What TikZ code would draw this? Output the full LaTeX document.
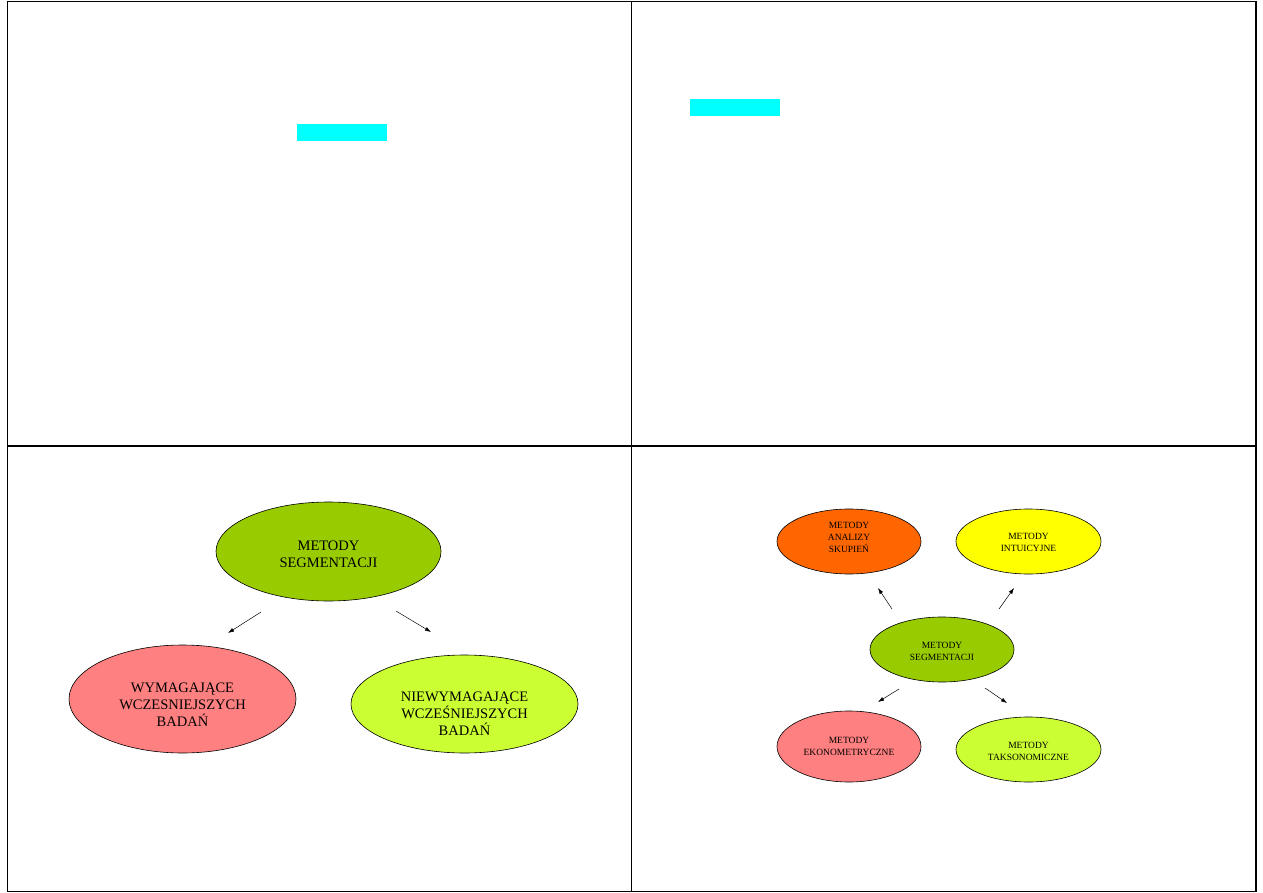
\documentclass[tikz,border=0pt]{standalone}
\usepackage{fontspec}
\setmainfont{Liberation Serif}
\usetikzlibrary{shapes.geometric,arrows.meta}
\definecolor{segGreen}{HTML}{99CC00}
\definecolor{pinkR}{HTML}{FF8080}
\definecolor{limeG}{HTML}{CCFF33}
\definecolor{orangeA}{HTML}{FF6600}
\definecolor{yellowI}{HTML}{FFFF00}
\definecolor{cyanBox}{HTML}{00FFFF}
\tikzset{
  frameline/.style={line width=1.4pt, black},
  oval/.style={ellipse, draw=black, line width=0.6pt, inner sep=0pt},
  bigtxt/.style={font=\fontsize{14.5}{17}\selectfont, align=center, inner sep=0pt},
  smalltxt/.style={font=\fontsize{9.5}{12}\selectfont, align=center, inner sep=0pt},
  arr/.style={-{Latex[length=6pt,width=4pt]}, line width=0.5pt},
  marker/.style={fill=cyanBox, draw=none}
}
\begin{document}
\begin{tikzpicture}[x=1pt,y=-1pt]
\useasboundingbox (0,0) rectangle (1263,893);
% frame
\draw[frameline] (7.5,1.8) rectangle (1256,891.5);
\draw[frameline] (631.5,1.8) -- (631.5,891.5);
\draw[frameline] (7.5,446) -- (1256,446);
% cyan markers
\fill[marker] (297,124) rectangle (387,141);
\fill[marker] (690,99) rectangle (780,116);
% bottom-left diagram
\node[oval, fill=segGreen, minimum width=225, minimum height=99,
  label={[bigtxt,yshift=-3pt]center:METODY\\SEGMENTACJI}] (segA) at (328.5,551.5) {};
\node[oval, fill=pinkR, minimum width=227, minimum height=108,
  label={[bigtxt,yshift=-6pt]center:WYMAGAJĄCE\\WCZESNIEJSZYCH\\BADAŃ}] (wym) at (182.5,699) {};
\node[oval, fill=limeG, minimum width=227, minimum height=98,
  label={[bigtxt,yshift=-10pt]center:NIEWYMAGAJĄCE\\WCZEŚNIEJSZYCH\\BADAŃ}] (niew) at (464.5,704) {};
\coordinate (a1s) at (261,612); \coordinate (a1e) at (228,633);
\coordinate (a2s) at (396,611); \coordinate (a2e) at (431,632);
\draw[arr] (a1s) -- (a1e);
\draw[arr] (a2s) -- (a2e);
% bottom-right diagram
\node[oval, fill=orangeA, minimum width=144, minimum height=65,
  label={[smalltxt,yshift=4pt]center:METODY\\ANALIZY\\SKUPIEŃ}] (anal) at (849,541.5) {};
\node[oval, fill=yellowI, minimum width=145, minimum height=65,
  label={[smalltxt,yshift=-1pt]center:METODY\\INTUICYJNE}] (intu) at (1028.5,541.5) {};
\node[oval, fill=segGreen, minimum width=144, minimum height=65,
  label={[smalltxt,yshift=-2pt]center:METODY\\SEGMENTACJI}] (segB) at (942,649.5) {};
\node[oval, fill=pinkR, minimum width=144, minimum height=71,
  label={[smalltxt]center:METODY\\EKONOMETRYCZNE}] (ekon) at (849,746.5) {};
\node[oval, fill=limeG, minimum width=145, minimum height=65,
  label={[smalltxt,yshift=-2pt]center:METODY\\TAKSONOMICZNE}] (takso) at (1028.5,749.5) {};
\coordinate (b1s) at (892,609); \coordinate (b1e) at (878,588);
\coordinate (b2s) at (999,609); \coordinate (b2e) at (1014,588);
\coordinate (b3s) at (899,689); \coordinate (b3e) at (878,702);
\coordinate (b4s) at (985,688); \coordinate (b4e) at (1007,703);
\draw[arr] (b1s) -- (b1e);
\draw[arr] (b2s) -- (b2e);
\draw[arr] (b3s) -- (b3e);
\draw[arr] (b4s) -- (b4e);
\end{tikzpicture}
\end{document}
